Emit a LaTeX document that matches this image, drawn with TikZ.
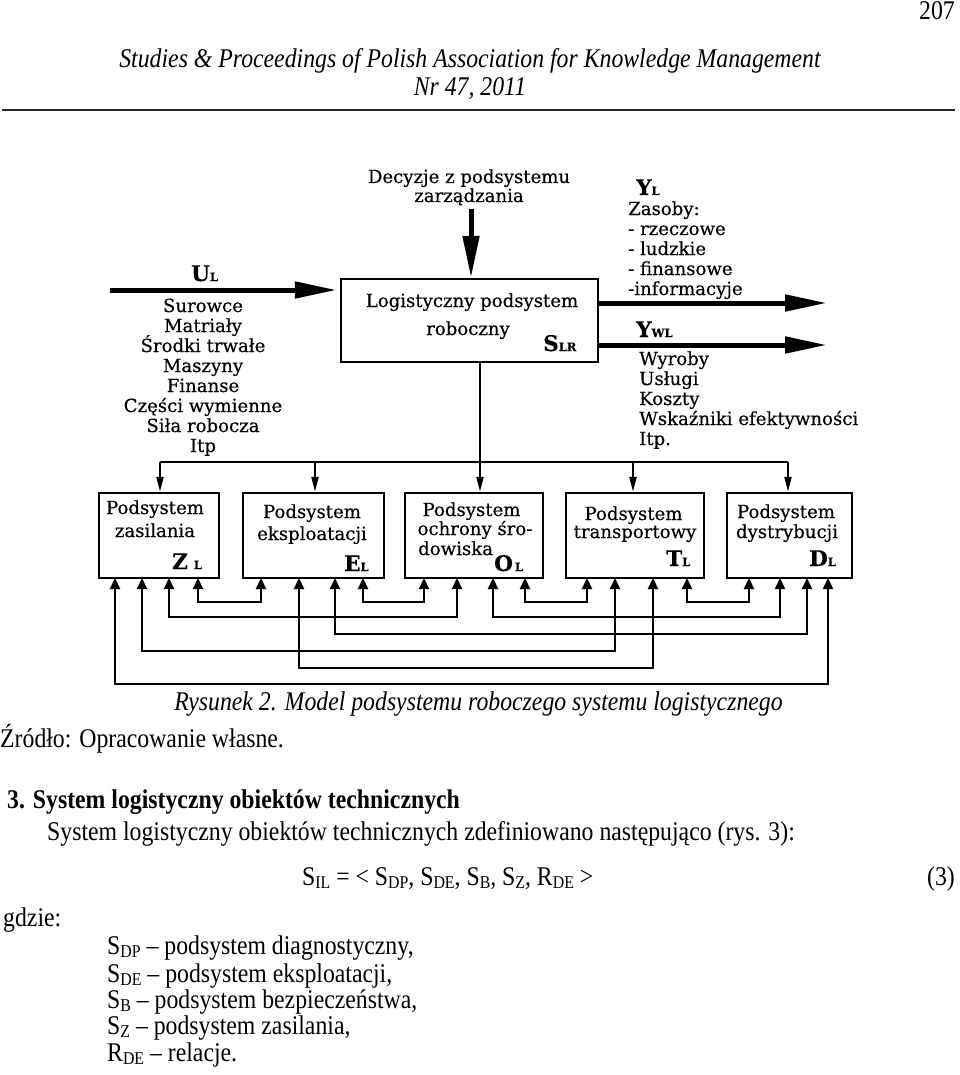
\documentclass[tikz,border=0pt]{standalone}
\usepackage{fontspec}
\usetikzlibrary{arrows.meta,calc}
\newfontfamily\dfont[FakeBold=0.35]{DejaVu Serif}
\newfontfamily\tfont[FakeStretch=0.88]{Liberation Serif}
\newcommand\BL[2]{{\bfseries\fontsize{21.5}{21.5}\selectfont #1}{\bfseries\fontsize{11.5}{11.5}\selectfont #2}}
\newcommand\lowsub[1]{\raisebox{-0.25ex}{\fontsize{18}{18}\selectfont #1}}
\tikzset{
  x=1pt,y=-1pt,
  dtext/.style={font=\dfont\fontsize{18.1}{20}\selectfont, inner sep=0pt},
  ttext/.style={font=\tfont\fontsize{27}{30}\selectfont, inner sep=0pt},
  box/.style={draw, line width=2.4pt, minimum height=85pt, inner sep=0pt},
  bigarrow/.style={line width=5pt, -{Triangle[length=42pt,width=16pt]}},
  thin/.style={line width=2.2pt},
  down/.style={line width=2.2pt, -{Triangle[length=15pt,width=7pt]}},
  fb/.style={line width=2.2pt, {Triangle[length=11pt,width=10pt]}-{Triangle[length=11pt,width=10pt]}}
}
\begin{document}
\begin{tikzpicture}
\useasboundingbox (0,0) rectangle (960,1075);
% header
\node[ttext, anchor=base east] (pg) at (955,20) {207};
\node[ttext, anchor=base, font=\tfont\itshape\fontsize{27}{30}\selectfont] (h1) at (470,68) {Studies \& Proceedings of Polish Association for Knowledge Management};
\node[ttext, anchor=base, font=\tfont\itshape\fontsize{27}{30}\selectfont] (h2) at (470,96) {Nr 47, 2011};
\draw[line width=2pt, black!85] (2,110) -- (955,110);

% main box
\node[box, minimum width=257pt, minimum height=83pt] (SLR) at (469.5,320.5) {};
\node[dtext, anchor=base] (slr1) at (472,307) {Logistyczny podsystem};
\node[dtext, anchor=base] (slr2) at (468,335) {roboczny};
\node[dtext, anchor=base west] (slr3) at (543,351) {\BL{S}{LR}};

% decisions
\node[dtext, anchor=base] (dec1) at (469,183) {Decyzje z podsystemu};
\node[dtext, anchor=base] (dec2) at (469,202) {zarządzania};
\coordinate (decs) at (471,209);
\draw[bigarrow] (decs) -- (SLR.north -| decs);

% input
\coordinate (uin) at (110,290);
\draw[bigarrow, shorten >=3pt] (uin) -- (SLR.west |- uin);
\node[dtext, anchor=base west] (ul) at (191,281) {\BL{U}{L}};
\foreach \t [count=\i] in {Surowce,Matriały,Środki trwałe,Maszyny,Finanse,Części wymienne,Siła robocza,Itp}
  \node[dtext, anchor=base] (in\i) at (203,292+20*\i) {\t};

% outputs
\coordinate (yl) at (827,303);
\coordinate (ywl) at (827,345);
\draw[bigarrow] (SLR.east |- yl) -- (yl);
\draw[bigarrow] (SLR.east |- ywl) -- (ywl);
\node[dtext, anchor=base west] (ylab) at (636,195) {\BL{Y}{L}};
\node[dtext, anchor=base west] (ywlab) at (636,337) {\BL{Y}{WL}};
\foreach \t [count=\i] in {Zasoby:,- rzeczowe,- ludzkie,- finansowe,-informacyje}
  \node[dtext, anchor=base west] (yo\i) at (628,195+20*\i) {\t};
\foreach \t [count=\i] in {Wyroby,Usługi,Koszty,Wskaźniki efektywności,Itp.}
  \node[dtext, anchor=base west] (yw\i) at (639,345+20*\i) {\t};

% subsystem boxes
\node[box, minimum width=120pt] (Z) at (159,535.5) {};
\node[box, minimum width=141pt] (E) at (313.5,535.5) {};
\node[box, minimum width=138pt] (O) at (474,535.5) {};
\node[box, minimum width=138pt] (T) at (635,535.5) {};
\node[box, minimum width=125pt] (D) at (789.5,535.5) {};

\node[dtext, anchor=base] (z1t) at (155,514) {Podsystem};
\node[dtext, anchor=base] (z2t) at (155,537) {zasilania};
\node[dtext, anchor=base west] (zl) at (172,569) {\BL{Z}{\hspace{6pt}L}};
\node[dtext, anchor=base] (e1t) at (312,518) {Podsystem};
\node[dtext, anchor=base] (e2t) at (312,540) {eksploatacji};
\node[dtext, anchor=base west] (el) at (344,571) {\BL{E}{L}};
\node[dtext, anchor=base] (o1t) at (471.5,516) {Podsystem};
\node[dtext, anchor=base] (o2t) at (475,535) {ochrony śro-};
\node[dtext, anchor=base west] (o3t) at (418,555) {dowiska};
\node[dtext, anchor=base west] (ol) at (494,571) {\BL{O}{\hspace{2pt}L}};
\node[dtext, anchor=base] (t1t) at (633.5,520) {Podsystem};
\node[dtext, anchor=base] (t2t) at (635,538) {transportowy};
\node[dtext, anchor=base west] (tl) at (666,566) {\BL{T}{L}};
\node[dtext, anchor=base] (d1t) at (786,518) {Podsystem};
\node[dtext, anchor=base] (d2t) at (787,538) {dystrybucji};
\node[dtext, anchor=base west] (dl) at (809,566) {\BL{D}{L}};

% distribution bus
\coordinate (b1) at (160,462);
\coordinate (b2) at (315,462);
\coordinate (b3) at (480,462);
\coordinate (b4) at (633,462);
\coordinate (b5) at (788,462);
\draw[thin] (b1) -- (b5);
\draw[down] (SLR.south -| b3) -- (O.north -| b3);
\draw[down] (b1) -- (Z.north -| b1);
\draw[down] (b2) -- (E.north -| b2);
\draw[down] (b4) -- (T.north -| b4);
\draw[down] (b5) -- (D.north -| b5);

% feedback tips
\coordinate (z1) at (115,578); \coordinate (z2) at (142,578); \coordinate (z3) at (169,578); \coordinate (z4) at (198,578);
\coordinate (e1) at (261,578); \coordinate (e2) at (299,578); \coordinate (e3) at (335,578); \coordinate (e4) at (363,578);
\coordinate (o1) at (424,578); \coordinate (o2) at (457,578); \coordinate (o3) at (493,578); \coordinate (o4) at (525,578);
\coordinate (t1) at (587,578); \coordinate (t2) at (615,578); \coordinate (t3) at (653,578); \coordinate (t4) at (687,578);
\coordinate (d1) at (749,578); \coordinate (d2) at (780,578); \coordinate (d3) at (807,578); \coordinate (d4) at (828,578);
\draw[fb] (z4) -- (z4 |- 0,602) -| (e1);
\draw[fb] (e4) -- (e4 |- 0,602) -| (o1);
\draw[fb] (o4) -- (o4 |- 0,602) -| (t1);
\draw[fb] (t4) -- (t4 |- 0,602) -| (d1);
\draw[fb] (z3) -- (z3 |- 0,617) -| (o2);
\draw[fb] (o3) -- (o3 |- 0,617) -| (d2);
\draw[fb] (e3) -- (e3 |- 0,634) -| (d3);
\draw[fb] (z2) -- (z2 |- 0,651) -| (t2);
\draw[fb] (e2) -- (e2 |- 0,668) -| (t3);
\draw[fb] (z1) -- (z1 |- 0,684) -| (d4);

% caption and text
\node[ttext, anchor=base, font=\tfont\itshape\fontsize{27}{30}\selectfont] (cap) at (478.5,710) {Rysunek 2. Model podsystemu roboczego systemu logistycznego};
\node[ttext, anchor=base west] (src) at (0,747) {Źródło: Opracowanie własne.};
\node[ttext, anchor=base west, font=\tfont\bfseries\fontsize{27}{30}\selectfont] (sec) at (7,808) {3. System logistyczny obiektów technicznych};
\node[ttext, anchor=base west] (par) at (47,840) {System logistyczny obiektów technicznych zdefiniowano następująco (rys. 3):};
\node[ttext, anchor=base west] (frm) at (302,885) {S\lowsub{IL} = < S\lowsub{DP}, S\lowsub{DE}, S\lowsub{B}, S\lowsub{Z}, R\lowsub{DE} >};
\node[ttext, anchor=base east] (eqn) at (955,885) {(3)};
\node[ttext, anchor=base west] (gdz) at (3,926) {gdzie:};
\node[ttext, anchor=base west] (l1) at (107,954) {S\lowsub{DP} – podsystem diagnostyczny,};
\node[ttext, anchor=base west] (l2) at (107,982) {S\lowsub{DE} – podsystem eksploatacji,};
\node[ttext, anchor=base west] (l3) at (107,1008) {S\lowsub{B} – podsystem bezpieczeństwa,};
\node[ttext, anchor=base west] (l4) at (107,1034) {S\lowsub{Z} – podsystem zasilania,};
\node[ttext, anchor=base west] (l5) at (107,1061) {R\lowsub{DE} – relacje.};
\end{tikzpicture}
\end{document}
